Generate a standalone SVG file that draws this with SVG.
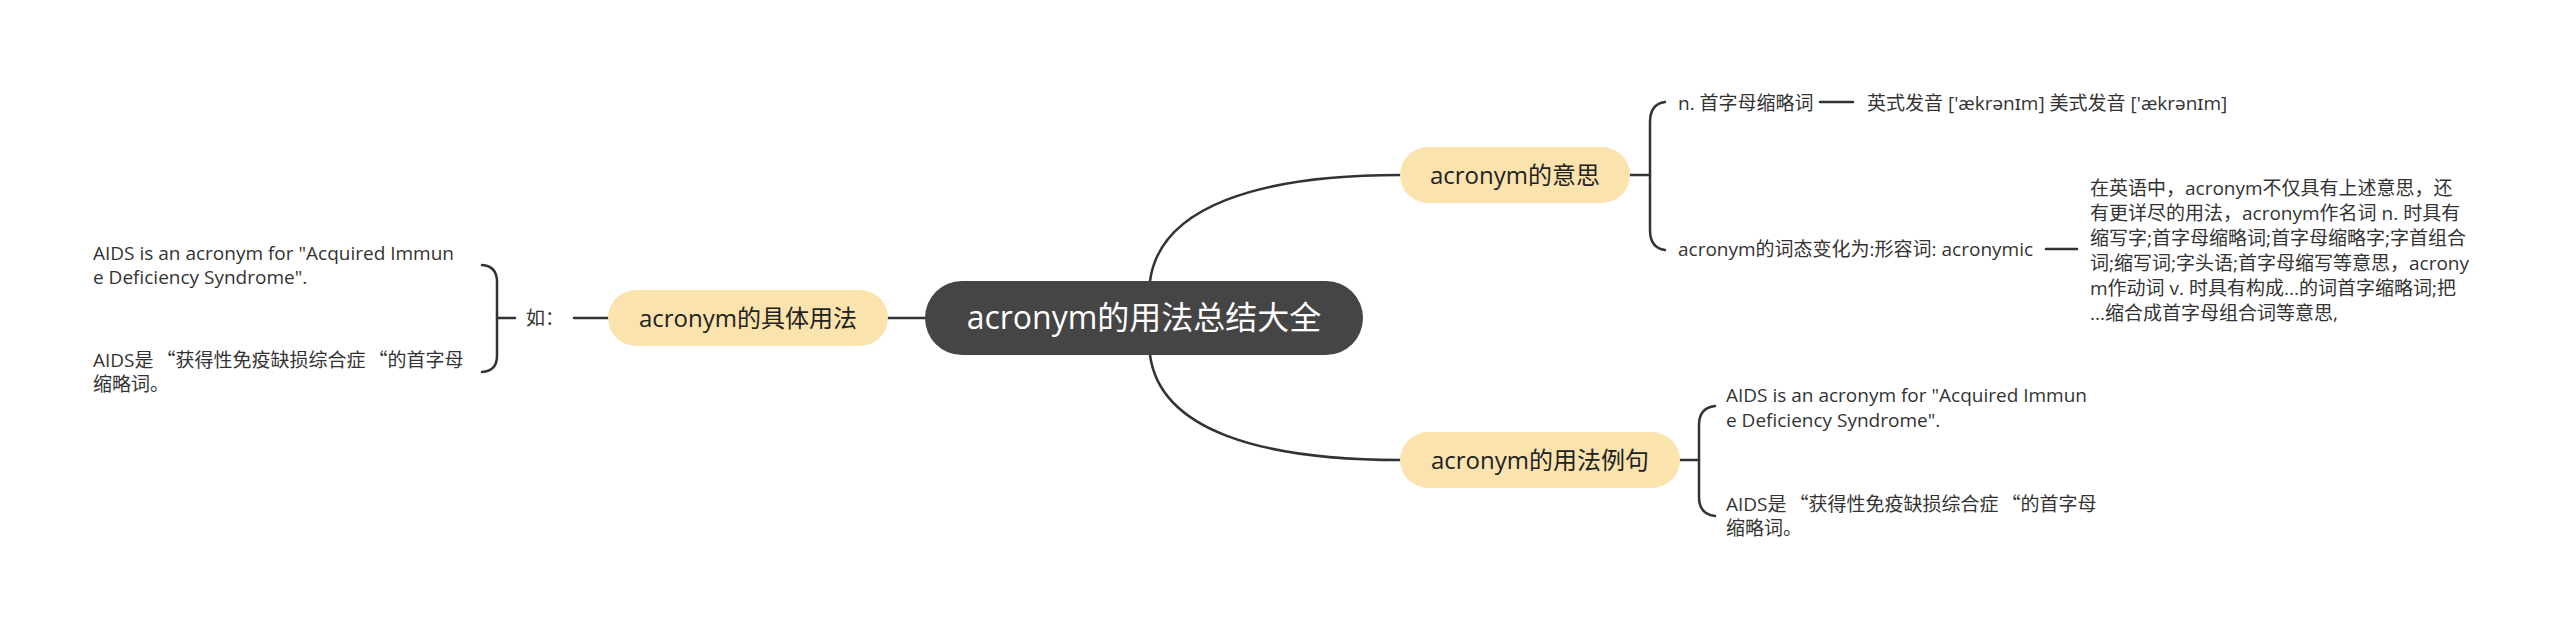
<svg xmlns="http://www.w3.org/2000/svg" width="2560" height="630" viewBox="0 0 2560 630">
<style>
.t{font-family:"Open Sans","Noto Sans","Noto Sans CJK SC",sans-serif;font-size:19px;fill:#333333}
.nt{font-family:"Open Sans","Noto Sans CJK SC",sans-serif;font-size:24px;fill:#222222;text-anchor:middle}
.ct{font-family:"Open Sans","Noto Sans CJK SC",sans-serif;font-size:32px;fill:#ffffff;text-anchor:middle}
.q{font-family:"Noto Sans CJK SC",sans-serif}
.node{fill:#FBE3AE}
.c{fill:none;stroke:#333333;stroke-width:2.5;stroke-linecap:round}
</style>
<rect width="2560" height="630" fill="#ffffff"/>
<g id="connectors">
<path class="c" d="M925,318 L888,318"/>
<path class="c" d="M608,318 L574,318"/>
<path class="c" d="M515,318 L497,318"/>
<path class="c" d="M482,265 Q497,266 497,282 L497,356 Q497,371 482,372"/>
<path class="c" d="M1150,281 C1160,206 1260,175 1400,175"/>
<path class="c" d="M1150,355 C1160,430 1260,460 1400,460"/>
<path class="c" d="M1630,175 L1650,175"/>
<path class="c" d="M1665,102 Q1650,104 1650,122 L1650,230 Q1650,248 1665,250"/>
<path class="c" d="M1820,102 L1853,102"/>
<path class="c" d="M2046,249 L2077,249"/>
<path class="c" d="M1680,460 L1699,460"/>
<path class="c" d="M1715,406 Q1699,408 1699,425 L1699,497 Q1699,514 1715,516"/>
</g>
<g id="central">
<rect x="925" y="281" width="438" height="74" rx="37" fill="#454545"/>
<text class="ct" x="1144" y="329">acronym的用法总结大全</text>
</g>
<g id="node-usage">
<rect class="node" x="608" y="290" width="280" height="56" rx="28"/>
<text class="nt" x="748" y="326.5">acronym的具体用法</text>
</g>
<g id="node-ru">
<text class="t" x="526" y="325">如：</text>
</g>
<g id="leaf-left-1">
<text class="t" x="93" y="260">AIDS is an acronym for "Acquired Immun</text>
<text class="t" x="93" y="284">e Deficiency Syndrome".</text>
</g>
<g id="leaf-left-2">
<text class="t" x="93" y="367">AIDS是<tspan class="q" dx="3">“</tspan>获得性免疫缺损综合症<tspan class="q" dx="3">“</tspan>的首字母</text>
<text class="t" x="93" y="391">缩略词。</text>
</g>
<g id="node-meaning">
<rect class="node" x="1400" y="147" width="230" height="56" rx="28"/>
<text class="nt" x="1515" y="183.5">acronym的意思</text>
</g>
<g id="leaf-noun">
<text class="t" x="1678" y="110">n. 首字母缩略词</text>
</g>
<g id="leaf-pron">
<text class="t" x="1867" y="110">英式发音 ['ækrənɪm] 美式发音 ['ækrənɪm]</text>
</g>
<g id="leaf-form">
<text class="t" x="1678" y="256">acronym的词态变化为:形容词: acronymic</text>
</g>
<g id="leaf-detail">
<text class="t" x="2090" y="195">在英语中，acronym不仅具有上述意思，还</text>
<text class="t" x="2090" y="220">有更详尽的用法，acronym作名词 n. 时具有</text>
<text class="t" x="2090" y="245">缩写字;首字母缩略词;首字母缩略字;字首组合</text>
<text class="t" x="2090" y="270">词;缩写词;字头语;首字母缩写等意思，acrony</text>
<text class="t" x="2090" y="295">m作动词 v. 时具有构成...的词首字缩略词;把</text>
<text class="t" x="2090" y="320">...缩合成首字母组合词等意思,</text>
</g>
<g id="node-examples">
<rect class="node" x="1400" y="432" width="280" height="56" rx="28"/>
<text class="nt" x="1540" y="468.5">acronym的用法例句</text>
</g>
<g id="leaf-right-1">
<text class="t" x="1726" y="402">AIDS is an acronym for "Acquired Immun</text>
<text class="t" x="1726" y="427">e Deficiency Syndrome".</text>
</g>
<g id="leaf-right-2">
<text class="t" x="1726" y="511">AIDS是<tspan class="q" dx="3">“</tspan>获得性免疫缺损综合症<tspan class="q" dx="3">“</tspan>的首字母</text>
<text class="t" x="1726" y="535">缩略词。</text>
</g>
</svg>
